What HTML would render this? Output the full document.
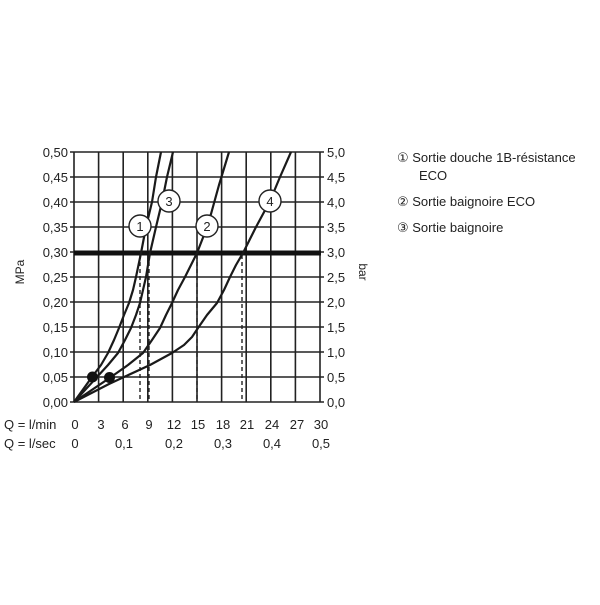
<!DOCTYPE html>
<html><head><meta charset="utf-8"><style>
body{margin:0;background:#fff}
svg text{font-family:"Liberation Sans","DejaVu Sans",sans-serif;fill:#222}
</style></head><body>
<svg width="600" height="600" viewBox="0 0 600 600" xmlns="http://www.w3.org/2000/svg">
<rect width="600" height="600" fill="#fff"/>
<g stroke="#222" stroke-width="1.6" fill="none">
<path d="M74 152V402M98.6 152V402M123.2 152V402M147.8 152V402M172.4 152V402M197 152V402M221.6 152V402M246.2 152V402M270.8 152V402M295.4 152V402M320 152V402"/>
<path d="M70 152H324M70 177H324M70 202H324M70 227H324M70 252H324M70 277H324M70 302H324M70 327H324M70 352H324M70 377H324M70 402H324"/>
</g>
<path d="M74 253H321" stroke="#111" stroke-width="5"/>
<g stroke="#222" stroke-width="1.4" stroke-dasharray="4,3">
<path d="M140 255V402M149 255V402M197 255V402M242 255V402"/>
</g>
<g stroke="#1a1a1a" stroke-width="2.2" fill="none" stroke-linejoin="round">
<polyline points="74,402 92,377 101,365 108,353 114,340 119,328 124,315 129,303 133,290 136,277 141,253 146,227 152,202 156,177 161,152"/>
<polyline points="74,402 97,377 108,365 118,353 125,340 131,328 136,315 140,303 143,290 146,277 150,253 156,227 162,202 167,177 173,152"/>
<polyline points="74,402 111,377 128,365 143,353 152,340 160,328 166,315 172,303 178,290 185,277 191,265 197,253 204,235 211,214 219,185 229,152"/>
<polyline points="74,402 109,384 124,377 150,365 172,353 184,345 192,337 198,328 207,315 217,303 224,290 230,277 236,265 243,253 256,227 270,201 280,177 291,152"/>
</g>
<circle cx="92.5" cy="377" r="5.5" fill="#111"/>
<circle cx="109.5" cy="377.5" r="5.5" fill="#111"/>
<g fill="#fff" stroke="#222" stroke-width="1.4">
<circle cx="140" cy="226" r="11"/><circle cx="169" cy="201" r="11"/>
<circle cx="207" cy="226" r="11"/><circle cx="270" cy="201" r="11"/>
</g>
<g font-size="13" text-anchor="middle">
<text x="140" y="231">1</text><text x="169" y="206">3</text><text x="207" y="231">2</text><text x="270" y="206">4</text>
</g>
<g font-size="13" text-anchor="end">
<text x="68" y="157">0,50</text><text x="68" y="182">0,45</text><text x="68" y="207">0,40</text><text x="68" y="232">0,35</text><text x="68" y="257">0,30</text><text x="68" y="282">0,25</text><text x="68" y="307">0,20</text><text x="68" y="332">0,15</text><text x="68" y="357">0,10</text><text x="68" y="382">0,05</text><text x="68" y="407">0,00</text>
</g>
<g font-size="13">
<text x="327" y="157">5,0</text><text x="327" y="182">4,5</text><text x="327" y="207">4,0</text><text x="327" y="232">3,5</text><text x="327" y="257">3,0</text><text x="327" y="282">2,5</text><text x="327" y="307">2,0</text><text x="327" y="332">1,5</text><text x="327" y="357">1,0</text><text x="327" y="382">0,5</text><text x="327" y="407">0,0</text>
</g>
<text font-size="12" transform="translate(24,272) rotate(-90)" text-anchor="middle">MPa</text>
<text font-size="12" transform="translate(359,272) rotate(90)" text-anchor="middle">bar</text>
<g font-size="13">
<text x="4" y="429">Q = l/min</text><text x="4" y="448">Q = l/sec</text>
</g>
<g font-size="13" text-anchor="middle">
<text x="75" y="429">0</text><text x="101" y="429">3</text><text x="125" y="429">6</text><text x="149" y="429">9</text><text x="174" y="429">12</text><text x="198" y="429">15</text><text x="223" y="429">18</text><text x="247" y="429">21</text><text x="272" y="429">24</text><text x="297" y="429">27</text><text x="321" y="429">30</text>
<text x="75" y="448">0</text><text x="124" y="448">0,1</text><text x="174" y="448">0,2</text><text x="223" y="448">0,3</text><text x="272" y="448">0,4</text><text x="321" y="448">0,5</text>
</g>
<g font-size="13">
<text x="397" y="162">① Sortie douche 1B-résistance</text>
<text x="419" y="180">ECO</text>
<text x="397" y="206">② Sortie baignoire ECO</text>
<text x="397" y="232">③ Sortie baignoire</text>
</g>
</svg>
</body></html>
